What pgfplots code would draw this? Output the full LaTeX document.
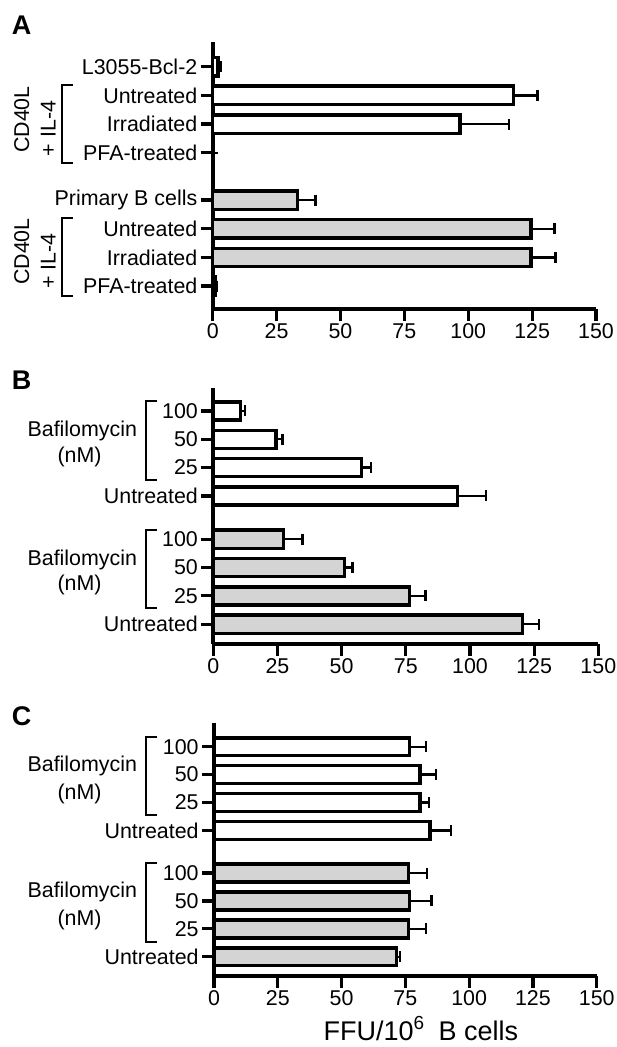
\documentclass[border=0pt]{standalone}
\usepackage{pgfplots}
\pgfplotsset{compat=1.18}
\usepackage{pgfplotstable}
\usepackage{fontspec}
\setmainfont{Liberation Sans}
\definecolor{barg}{RGB}{212,212,212}

% panel A
\pgfplotstableread{
pos val err
0 2 1
1 117.6 9.5
2 96.8 19.2
3 0 0
}\Awhite
\pgfplotstableread{
pos val err
4.65 33.1 7.1
5.65 124.6 9.1
6.65 124.6 9.6
7.65 1 0.5
}\Agray
% panel B
\pgfplotstableread{
pos val err
0 10.7 1.6
1 24.4 2.5
2 57.8 3.6
3 95.1 11.1
}\Bwhite
\pgfplotstableread{
pos val err
4.53 27.3 7.5
5.53 51.0 3.2
6.53 76.4 6.3
7.53 120.5 6.4
}\Bgray
% panel C
\pgfplotstableread{
pos val err
0 76.6 6.4
1 80.8 6.1
2 80.8 3.4
3 84.7 8.1
}\Cwhite
\pgfplotstableread{
pos val err
4.53 76.2 7.4
5.53 76.6 8.7
6.53 76.2 6.8
7.53 71.6 1.3
}\Cgray

\pgfplotsset{
  panel/.style={
    scale only axis, xbar, bar width=0.64, bar shift=0pt,
    xmin=0, xmax=150, xtick={0,25,...,150},
    y dir=reverse,
    axis lines=left, axis line style={line width=1.9pt, -},
    tick align=outside, major tick length=6pt,
    tick style={line width=1.6pt, black},
    every tick label/.append style={font=\fontsize{10.7}{12}\selectfont},
    yticklabel style={inner sep=1.5pt},
    xticklabel style={inner sep=1pt},
    /pgf/number format/assume math mode=true,
    clip=false, anchor=south west,
    error bars/x dir=plus, error bars/x explicit,
    error bars/error mark=|,
    error bars/error bar style={line width=1.2pt, black},
    error bars/error mark options={line width=1.2pt, mark size=2.75pt, black},
  },
  wbar/.style={draw=black, line width=1.7pt, fill=white},
  gbar/.style={draw=black, line width=1.7pt, fill=barg},
}

\begin{document}
\begin{tikzpicture}
\useasboundingbox (0,0) rectangle (308pt,-523.5pt);

\begin{axis}[panel, at={(106.35pt,-154.5pt)}, width=191.65pt, height=133.5pt,
  ymin=-0.86, ymax=8.45,
  ytick={0,1,2,3,4.65,5.65,6.65,7.65},
  yticklabels={L3055-Bcl-2, Untreated, Irradiated, PFA-treated, Primary B cells, Untreated, Irradiated, PFA-treated}]
\addplot[wbar] table[x=val, y=pos, x error=err] {\Awhite};
\addplot[gbar] table[x=val, y=pos, x error=err] {\Agray};
\end{axis}

\begin{axis}[panel, at={(106.65pt,-322pt)}, width=192.5pt, height=128pt,
  ymin=-0.81, ymax=8.23,
  ytick={0,1,2,3,4.53,5.53,6.53,7.53},
  yticklabels={100, 50, 25, Untreated, 100, 50, 25, Untreated}]
\addplot[wbar] table[x=val, y=pos, x error=err] {\Bwhite};
\addplot[gbar] table[x=val, y=pos, x error=err] {\Bgray};
\end{axis}

\begin{axis}[panel, at={(107pt,-488pt)}, width=191.35pt, height=126.35pt,
  ymin=-0.84, ymax=8.22,
  ytick={0,1,2,3,4.53,5.53,6.53,7.53},
  yticklabels={100, 50, 25, Untreated, 100, 50, 25, Untreated}]
\addplot[wbar] table[x=val, y=pos, x error=err] {\Cwhite};
\addplot[gbar] table[x=val, y=pos, x error=err] {\Cgray};
\end{axis}

\begin{scope}[x=0.5pt, y=-0.5pt, every node/.style={font=\fontsize{10.7}{12}\selectfont, inner sep=0pt}]
  % panel letters
  \node[font=\bfseries\fontsize{13.5}{15}\selectfont] at (21.7,25) {A};
  \node[font=\bfseries\fontsize{13.5}{15}\selectfont] at (21.7,380.5) {B};
  \node[font=\bfseries\fontsize{13.5}{15}\selectfont] at (21.7,715.7) {C};
  % panel A groups
  \draw[line width=1pt] (73,85) -- (62,85) -- (62,163) -- (73,163);
  \draw[line width=1pt] (73,218) -- (62,218) -- (62,296) -- (73,296);
  \node[rotate=90] at (21.7,119.5) {CD40L};
  \node[rotate=90] at (48.3,128.5) {+ IL-4};
  \node[rotate=90] at (21.7,251.5) {CD40L};
  \node[rotate=90] at (48.3,261) {+ IL-4};
  % panel B groups
  \draw[line width=1pt] (157,401) -- (146,401) -- (146,480) -- (157,480);
  \draw[line width=1pt] (157,530) -- (146,530) -- (146,607.7) -- (157,607.7);
  \node[anchor=base] at (82.3,436.7) {Bafilomycin};
  \node[anchor=base] at (79.5,462.7) {(nM)};
  \node[anchor=base] at (82.3,565) {Bafilomycin};
  \node[anchor=base] at (79.5,590.7) {(nM)};
  % panel C groups
  \draw[line width=1pt] (157,736.7) -- (146,736.7) -- (146,815) -- (157,815);
  \draw[line width=1pt] (157,862.7) -- (146,862.7) -- (146,941.7) -- (157,941.7);
  \node[anchor=base] at (82.3,771.7) {Bafilomycin};
  \node[anchor=base] at (79.5,799.3) {(nM)};
  \node[anchor=base] at (82.3,897.7) {Bafilomycin};
  \node[anchor=base] at (79.5,925) {(nM)};
  % x label
  \node[anchor=base west, font=\fontsize{13.5}{16}\selectfont] at (323.3,1040) {FFU/10\textsuperscript{6}\hspace{0.5em}B cells};
\end{scope}
\end{tikzpicture}
\end{document}
